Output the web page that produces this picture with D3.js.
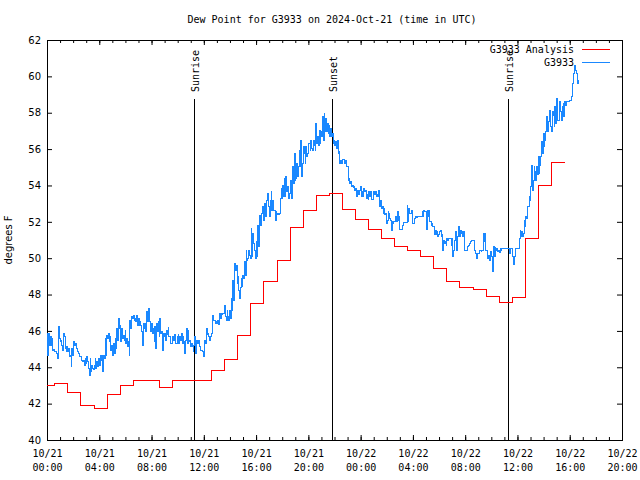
<!DOCTYPE html>
<html><head><meta charset="utf-8">
<script src="https://cdn.jsdelivr.net/npm/d3@7"></script>
<style>body{margin:0;background:#fff}svg{display:block}</style>
</head><body><svg id="c" width="640" height="480"></svg>
<script>
const titleText = "Dew Point for G3933 on 2024-Oct-21 (time in UTC)";
const yLabel = "degrees F";
const yTicks = [40,42,44,46,48,50,52,54,56,58,60,62];
const xTickHours = [0,4,8,12,16,20,24,28,32,36,40,44];
const xTickDates = ["10/21","10/21","10/21","10/21","10/21","10/21","10/22","10/22","10/22","10/22","10/22","10/22"];
const xTickTimes = ["00:00","04:00","08:00","12:00","16:00","20:00","00:00","04:00","08:00","12:00","16:00","20:00"];
const minorTickHours = d3.range(0,45,1);
const sunHours = [11.27, 21.83, 35.30];
const sunLabels = ["Sunrise","Sunset","Sunrise"];
const seriesNames = ["G3933 Analysis","G3933"];

// hourly analysis values (each valid from 24 min before the hour to 36 min after)
const analysisValues = [43.0,43.1,42.6,41.9,41.75,42.5,43.0,43.3,43.25,42.9,43.3,43.25,43.25,43.85,44.45,45.75,47.5,48.7,49.85,51.7,
52.6,53.45,53.55,52.7,52.15,51.6,51.1,50.65,50.45,50.1,49.45,48.7,48.4,48.3,47.9,47.55,47.85,51.1,54.0,55.25];
const analysisLeadHours = 0.4;

// station observations, starting 10/21 00:00, one every obsStepHours
const obsStepHours = 0.0635;
const dewObs = [
45.87,44.67,45.87,45.22,45.68,45.22,45.59,44.95,45.0,44.86,44.86,44.77,44.77,44.49,46.23,45.59,45.41,45.5,45.22,44.95,
45.87,45.68,45.04,44.86,45.13,44.86,45.04,44.58,44.67,44.03,45.04,44.67,45.41,45.22,45.32,45.04,45.04,44.86,44.77,44.58,
44.58,44.49,44.4,44.31,44.4,44.12,44.49,44.22,44.58,44.31,43.94,43.57,44.49,43.76,44.12,43.94,43.9,44.12,44.49,43.94,
44.31,44.03,44.49,44.12,44.67,44.4,44.67,43.76,44.67,44.5,45.59,44.67,45.77,45.59,45.87,45.41,45.68,44.95,45.22,44.67,
45.32,44.77,45.59,45.04,46.14,45.5,46.69,46.14,46.32,45.41,46.14,45.59,45.77,45.5,46.05,45.32,45.59,45.13,45.41,44.67,
46.6,46.14,46.8,46.69,46.87,46.6,46.69,46.51,46.87,46.32,46.69,46.32,46.51,46.32,45.96,45.22,46.42,46.14,46.42,45.96,
47.06,46.51,47.24,46.51,46.51,45.96,46.42,45.87,46.14,45.41,46.23,45.04,46.42,45.96,46.51,45.68,46.69,45.87,45.96,44.95,
45.87,45.68,
45.87,45.5,46.05,45.78,46.2,45.68,45.68,45.31,45.31,45.68,45.68,45.5,45.78,45.31,45.31,45.68,45.78,45.31,45.68,45.5,
45.87,45.31,45.68,45.4,44.77,45.5,46.14,45.31,46.05,45.4,45.5,45.13,45.31,45.13,44.85,45.2,45.68,44.77,45.5,45.31,
45.31,45.5,45.13,44.95,44.95,44.86,44.77,44.58,45.5,45.31,46.14,45.78,45.87,45.68,45.5,45.68,45.87,46.42,46.87,46.6,
46.6,46.42,46.5,46.42,46.6,46.33,46.97,46.7,46.97,46.9,46.97,46.97,47.42,46.78,46.6,47.15,46.78,46.6,47.15,46.7,
47.8,47.15,48.8,47.7,49.72,49.35,49.6,48.6,48.98,48.25,47.8,48.4,48.9,48.45,49.07,48.9,49.8,49.07,50.45,49.9,
50.0,50.45,50.17,49.99,51.64,50.08,51.37,50.82,50.45,49.99,50.9,50.08,51.82,50.63,52.37,51.82,51.82,52.47,52.83,52.1,
53.02,52.28,52.28,53.2,53.57,52.83,52.28,53.2,53.66,52.65,53.2,52.65,52.65,52.1,
52.56,52.38,52.47,52.38,52.47,53.29,53.84,53.29,54.02,53.38,54.4,53.38,54.48,53.66,53.93,53.29,53.57,53.93,54.3,53.29,
55.03,54.12,55.77,54.3,54.4,55.22,54.48,55.03,55.95,55.03,56.5,54.48,55.22,56.13,55.77,55.22,56.13,55.58,55.77,56.32,
56.32,55.95,56.5,56.04,55.95,56.5,56.22,55.95,57.42,56.32,56.68,56.22,57.05,56.32,56.96,56.68,57.78,56.5,57.97,56.96,
57.69,56.96,57.42,56.87,57.32,56.68,57.14,56.68,56.87,56.32,56.5,56.22,56.41,56.04,56.5,55.77,55.86,55.22,55.4,55.22,
55.44,55.44,55.44,55.22,55.4,55.03,55.03,54.3,54.4,54.12,54.2,53.97,54.02,53.9,53.97,53.75,53.84,53.38,53.75,53.48,
53.57,53.75,53.93,53.38,53.66,53.38,53.84,53.66,53.75,53.29,53.48,53.24,53.66,53.38,53.66,53.24,53.24,53.66,53.66,53.48,
53.66,53.38,53.48,53.38,53.75,52.83,53.2,52.74,52.83,52.47,52.74,52.38,52.47,51.92,52.1,52.56,52.47,52.2,52.1,51.55,
52.0,51.92,52.0,52.0,52.28,52.0,52.56,52.1,52.28,51.58,51.58,51.58,51.58,51.82,51.95,51.95,51.95,51.95,52.92,52.0,
52.74,52.47,52.47,52.65,52.56,51.92,51.92,52.2,52.28,52.25,52.28,52.28,52.28,52.28,52.28,52.28,52.56,52.28,52.6,52.56,
52.56,51.58,52.6,52.28,52.6,52.0,52.0,51.82,51.92,51.73,51.73,51.28,51.55,51.28,51.46,51.18,51.28,51.46,51.55,51.18,
51.28,50.45,51.0,50.82,50.91,50.72,51.09,51.0,51.09,51.09,51.09,50.72,51.09,50.08,50.45,51.0,51.46,50.45,50.45,51.18,
51.73,51.18,51.55,51.37,51.46,51.18,51.46,50.45,50.45,50.45,50.45,50.63,50.72,50.82,50.91,51.0,51.0,51.0,51.0,50.45,
50.27,49.99,49.99,50.27,50.27,50.45,50.45,50.36,50.45,50.45,51.37,50.9,51.37,50.45,50.45,49.99,50.17,49.9,49.99,50.36,
50.08,49.26,50.63,50.08,
50.6,50.45,50.54,50.36,50.45,50.3,50.54,50.45,50.54,50.54,50.54,50.54,50.54,50.54,50.54,50.54,50.54,50.27,50.54,50.54,
50.54,50.08,49.63,50.08,50.54,50.54,50.54,50.54,50.54,51.09,51.55,51.18,51.46,51.18,51.37,52.1,51.73,52.28,52.2,52.83,
52.83,53.38,53.2,53.93,55.12,53.75,54.3,55.03,54.76,54.3,55.03,54.58,55.58,54.67,55.12,55.58,56.4,55.77,56.87,56.13,
56.5,56.96,57.78,56.96,57.5,57.78,58.15,57.23,56.96,58.06,57.87,57.23,58.33,57.42,58.79,57.6,57.6,58.52,58.61,58.06,
57.6,58.33,58.52,57.78,58.61,58.4,58.61,58.61,58.61,58.61,58.7,58.7,58.9,59.62,59.8,60.17,60.62,60.3,60.17,59.62,
59.8,59.7
];

const colors = {analysis:"#ff0000", obs:"#1a88ff"};
const mono = "'DejaVu Sans Mono', 'Liberation Mono', monospace";
const sans = "'DejaVu Sans', sans-serif";

const svg = d3.select("#c");
const L = 47, R = 622, T = 40, B = 440;
const x = d3.scaleLinear().domain([0,44]).range([L,R]);
const y = d3.scaleLinear().domain([40,62]).range([B,T]);

// title
svg.append("text").attr("x",332).attr("y",23).attr("text-anchor","middle")
  .attr("font-family",mono).attr("font-size",10).text(titleText);

// axes (ticks inward)
function styleAxis(g){ g.select(".domain").remove(); g.selectAll("line").attr("stroke","#000"); }
svg.append("g").attr("transform",`translate(0,${B})`)
  .call(d3.axisBottom(x).tickValues(minorTickHours).tickSize(-3).tickFormat(""))
  .call(styleAxis);
svg.append("g").attr("transform",`translate(0,${T})`)
  .call(d3.axisTop(x).tickValues(minorTickHours).tickSize(-3).tickFormat(""))
  .call(styleAxis);
svg.append("g").attr("transform",`translate(0,${T})`)
  .call(d3.axisTop(x).tickValues(xTickHours).tickSize(-5).tickFormat(""))
  .call(styleAxis);
const bx = svg.append("g").attr("transform",`translate(0,${B})`)
  .call(d3.axisBottom(x).tickValues(xTickHours).tickSize(-5).tickFormat((d,i)=>xTickDates[i]))
  .call(styleAxis);
bx.attr("font-family",mono).attr("font-size",10);
bx.selectAll(".tick text").each(function(d,i){
  const t = d3.select(this).text(null).attr("dy",null).attr("y",0).attr("fill","#000");
  t.append("tspan").attr("x",0).attr("y",17).text(xTickDates[i]);
  t.append("tspan").attr("x",0).attr("y",31).text(xTickTimes[i]);
});
const ly = svg.append("g").attr("transform",`translate(${L},0)`)
  .call(d3.axisLeft(y).tickValues(yTicks).tickSize(-5).tickPadding(6).tickFormat(d3.format("d")))
  .call(styleAxis);
ly.attr("font-family",sans).attr("font-size",10);
ly.selectAll(".tick text").attr("fill","#000");
svg.append("g").attr("transform",`translate(${R},0)`)
  .call(d3.axisRight(y).tickValues(yTicks).tickSize(-5).tickFormat(""))
  .call(styleAxis);

// y label
svg.append("text").attr("transform","translate(12,240) rotate(-90)").attr("text-anchor","middle")
  .attr("font-family",sans).attr("font-size",10).text(yLabel);

// frame
svg.append("rect").attr("x",L+0.5).attr("y",T+0.5).attr("width",R-L).attr("height",B-T)
  .attr("fill","none").attr("stroke","#000").attr("stroke-width",1);

// sun events
sunHours.forEach((h,i)=>{
  const xx = Math.round(x(h))+0.5;
  svg.append("line").attr("x1",xx).attr("x2",xx).attr("y1",99).attr("y2",B)
    .attr("stroke","#000").attr("stroke-width",1);
  svg.append("text").attr("transform",`translate(${xx+4.5},92) rotate(-90)`)
    .attr("font-family",mono).attr("font-size",10).text(sunLabels[i]);
});

// analysis (red steps)
const aPts = analysisValues.map((v,i)=>[Math.max(0,i-analysisLeadHours), v]);
aPts.push([analysisValues.length-analysisLeadHours, analysisValues[analysisValues.length-1]]);
svg.append("path").datum(aPts)
  .attr("d", d3.line().x(d=>x(d[0])).y(d=>y(d[1])).curve(d3.curveStepAfter))
  .attr("fill","none").attr("stroke",colors.analysis).attr("stroke-width",1)
  .attr("shape-rendering","crispEdges");

// observations (blue)
const oPts = dewObs.map((v,i)=>[i*obsStepHours, v]);
svg.append("path").datum(oPts)
  .attr("d", d3.line().x(d=>x(d[0])).y(d=>y(d[1])).curve(d3.curveStepAfter))
  .attr("fill","none").attr("stroke",colors.obs).attr("stroke-width",1)
  .attr("shape-rendering","crispEdges");

// legend
const legY = [49.5, 62.5];
const legC = [colors.analysis, colors.obs];
seriesNames.forEach((n,i)=>{
  svg.append("text").attr("x",574).attr("y",legY[i]+3.5).attr("text-anchor","end")
    .attr("font-family",mono).attr("font-size",10).text(n);
  svg.append("line").attr("x1",582).attr("x2",610).attr("y1",legY[i]).attr("y2",legY[i])
    .attr("stroke",legC[i]).attr("stroke-width",1).attr("shape-rendering","crispEdges");
});
</script>
</body></html>
